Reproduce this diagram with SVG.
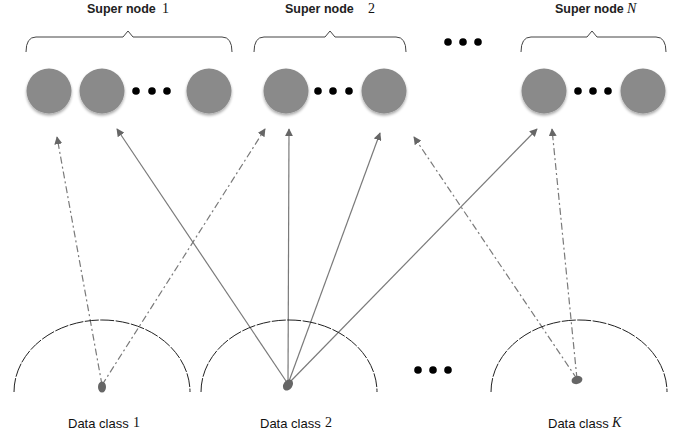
<svg xmlns="http://www.w3.org/2000/svg" width="681" height="438" viewBox="0 0 681 438">
<defs>
<style>
.lbl{font-family:"Liberation Sans","DejaVu Sans",sans-serif;font-size:13px;fill:#111}
.sn{font-size:12.5px;font-weight:bold;fill:#222}
.num{font-family:"Liberation Serif","DejaVu Serif",serif;font-size:14px;fill:#111}
.it{font-style:italic}
.node{fill:#8a8a8a;filter:url(#sh)}
.dot{fill:#000}
.brace{fill:none;stroke:#444;stroke-width:1}
.arc{fill:none;stroke:#222;stroke-width:1;stroke-dasharray:14 1.5}
.ln{fill:none;stroke:#7a7a7a;stroke-width:1.2;marker-end:url(#ah)}
.dash{stroke-dasharray:7 3 2 3}
.pt{fill:#666}
</style>
<filter id="sh" x="-30%" y="-30%" width="160%" height="160%">
<feGaussianBlur in="SourceAlpha" stdDeviation="1.5"/>
<feOffset dx="0" dy="1.5" result="b"/>
<feComponentTransfer><feFuncA type="linear" slope="0.35"/></feComponentTransfer>
<feMerge><feMergeNode/><feMergeNode in="SourceGraphic"/></feMerge>
</filter>
<marker id="ah" viewBox="0 0 10 10" refX="9" refY="5" markerWidth="8" markerHeight="8" markerUnits="userSpaceOnUse" orient="auto">
<path d="M0,0 L10,5 L0,10 z" fill="#666"/>
</marker>
</defs>
<rect width="681" height="438" fill="#fff"/>

<g id="super-node-1">
<text class="lbl sn" x="87" y="13">Super node</text><text class="num" x="162" y="13">1</text>
<path class="brace" d="M26,52 Q26,37 36,37 L123,37 L128,31 L133,37 L222,37 Q232,37 232,52"/>
<circle class="node" cx="49" cy="91" r="22.5"/>
<circle class="node" cx="102" cy="91" r="22.5"/>
<circle class="dot" cx="136" cy="91" r="3.8"/>
<circle class="dot" cx="152" cy="91" r="3.8"/>
<circle class="dot" cx="167" cy="91" r="3.8"/>
<circle class="node" cx="209" cy="91" r="22.5"/>
</g>

<g id="super-node-2">
<text class="lbl sn" x="285" y="13">Super node</text><text class="num" x="368" y="13">2</text>
<path class="brace" d="M254,52 Q254,37 264,37 L325,37 L330,31 L335,37 L396,37 Q406,37 406,52"/>
<circle class="node" cx="286" cy="91" r="22.5"/>
<circle class="dot" cx="318" cy="91" r="3.8"/>
<circle class="dot" cx="333" cy="91" r="3.8"/>
<circle class="dot" cx="349" cy="91" r="3.8"/>
<circle class="node" cx="384" cy="91" r="22.5"/>
</g>

<g id="top-ellipsis">
<circle class="dot" cx="448" cy="42" r="3.8"/>
<circle class="dot" cx="463" cy="42" r="3.8"/>
<circle class="dot" cx="478" cy="42" r="3.8"/>
</g>

<g id="super-node-N">
<text class="lbl sn" x="555" y="13">Super node</text><text class="num it" x="627" y="13">N</text>
<path class="brace" d="M521,52 Q521,37 531,37 L587,37 L592,31 L597,37 L656,37 Q666,37 666,52"/>
<circle class="node" cx="544" cy="91" r="22.5"/>
<circle class="dot" cx="578" cy="91" r="3.8"/>
<circle class="dot" cx="593" cy="91" r="3.8"/>
<circle class="dot" cx="608" cy="91" r="3.8"/>
<circle class="node" cx="643" cy="91" r="22.5"/>
</g>

<g id="connectors">
<line class="ln dash" x1="102" y1="385" x2="57" y2="137"/>
<line class="ln dash" x1="102" y1="385" x2="265" y2="129"/>
<line class="ln" x1="288" y1="384" x2="117" y2="129"/>
<line class="ln" x1="288" y1="384" x2="289" y2="129"/>
<line class="ln" x1="288" y1="384" x2="380" y2="133"/>
<line class="ln" x1="288" y1="384" x2="537" y2="129"/>
<line class="ln dash" x1="577" y1="379" x2="414" y2="137"/>
<line class="ln dash" x1="577" y1="379" x2="552" y2="129"/>
</g>

<g id="data-class-1">
<path class="arc" d="M14,392 A88,72 0 0 1 190,392"/>
<ellipse class="pt" cx="102" cy="387" rx="4" ry="5.5"/>
<text class="lbl" x="68" y="428">Data class</text><text class="num" x="133" y="427">1</text>
</g>

<g id="data-class-2">
<path class="arc" d="M201,392 A88,72 0 0 1 377,392"/>
<ellipse class="pt" cx="288" cy="385" rx="4.5" ry="6" transform="rotate(35 288 385)"/>
<text class="lbl" x="260" y="428">Data class</text><text class="num" x="325" y="427">2</text>
</g>

<g id="bottom-ellipsis">
<circle class="dot" cx="418" cy="370" r="3.8"/>
<circle class="dot" cx="433" cy="370" r="3.8"/>
<circle class="dot" cx="448" cy="370" r="3.8"/>
</g>

<g id="data-class-K">
<path class="arc" d="M491,392 A88,72 0 0 1 667,392"/>
<ellipse class="pt" cx="577" cy="380" rx="5.5" ry="4" transform="rotate(-15 577 380)"/>
<text class="lbl" x="548" y="428">Data class</text><text class="num it" x="612" y="427">K</text>
</g>
</svg>
